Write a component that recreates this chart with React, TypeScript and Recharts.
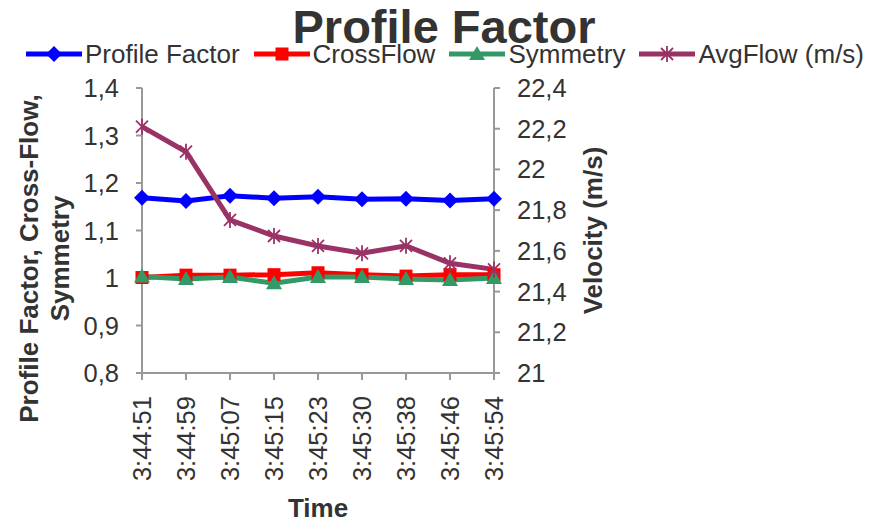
import { Legend, Line, LineChart, XAxis, YAxis } from "recharts";

const times = ["3:44:51", "3:44:59", "3:45:07", "3:45:15", "3:45:23", "3:45:30", "3:45:38", "3:45:46", "3:45:54"];
const profileFactor = [1.169, 1.162, 1.173, 1.168, 1.171, 1.166, 1.167, 1.163, 1.167];
const crossFlow = [1.001, 1.006, 1.006, 1.007, 1.011, 1.007, 1.004, 1.007, 1.007];
const symmetry = [1.003, 0.998, 1.002, 0.989, 1.002, 1.002, 0.998, 0.996, 1.0];
const avgFlow = [22.21, 22.087, 21.752, 21.673, 21.624, 21.588, 21.625, 21.539, 21.509];

const leftTicks = [0.8, 0.9, 1.0, 1.1, 1.2, 1.3, 1.4];
const rightTicks = [21, 21.2, 21.4, 21.6, 21.8, 22, 22.2, 22.4];

const data = times.map((time, i) => ({
  time,
  profileFactor: profileFactor[i],
  crossFlow: crossFlow[i],
  symmetry: symmetry[i],
  avgFlow: avgFlow[i],
}));

const FONT = "'Liberation Sans', Arial, sans-serif";
const TEXT = "#333333";
const AXIS = "#999999";
const TICK_SIZE = 25.5;
const LABEL_SIZE = 26;

const BLUE = "#0000FF";
const RED = "#FF0000";
const GREEN = "#339966";
const PURPLE = "#993366";

const commaFmt = (v: number) => String(Math.round(v * 10) / 10).replace(".", ",");

type Marker = "diamond" | "square" | "triangle" | "star";

function markerShape(kind: Marker, cx: number, cy: number, color: string, key?: string | number) {
  if (kind === "diamond") {
    return <polygon key={key} points={`${cx},${cy - 8} ${cx + 8},${cy} ${cx},${cy + 8} ${cx - 8},${cy}`} fill={color} />;
  }
  if (kind === "square") {
    return <rect key={key} x={cx - 6.5} y={cy - 6.5} width={13} height={13} fill={color} />;
  }
  if (kind === "triangle") {
    return <polygon key={key} points={`${cx},${cy - 8} ${cx + 8},${cy + 6} ${cx - 8},${cy + 6}`} fill={color} />;
  }
  return (
    <g key={key} stroke={color} strokeWidth={1.8}>
      <line x1={cx - 6} y1={cy - 6} x2={cx + 6} y2={cy + 6} />
      <line x1={cx - 6} y1={cy + 6} x2={cx + 6} y2={cy - 6} />
      <line x1={cx} y1={cy - 8} x2={cx} y2={cy + 8} />
    </g>
  );
}

const dotFor = (kind: Marker, color: string) => (props: any) => {
  const { cx, cy, index } = props;
  if (cx == null || cy == null) return <g key={index} />;
  return markerShape(kind, cx, cy, color, index);
};

const legendItems: { name: string; color: string; marker: Marker }[] = [
  { name: "Profile Factor", color: BLUE, marker: "diamond" },
  { name: "CrossFlow", color: RED, marker: "square" },
  { name: "Symmetry", color: GREEN, marker: "triangle" },
  { name: "AvgFlow (m/s)", color: PURPLE, marker: "star" },
];

function renderLegend() {
  return (
    <div style={{ display: "flex", justifyContent: "center", alignItems: "center", height: 28, gap: 14, fontFamily: FONT, fontSize: LABEL_SIZE, color: TEXT }}>
      {legendItems.map((it) => (
        <div key={it.name} style={{ display: "flex", alignItems: "center" }}>
          <svg width={56} height={20} style={{ marginRight: 3 }}>
            <line x1={0} y1={10} x2={56} y2={10} stroke={it.color} strokeWidth={5} />
            {markerShape(it.marker, 28, 10, it.color)}
          </svg>
          <span style={{ lineHeight: "28px" }}>{it.name}</span>
        </div>
      ))}
    </div>
  );
}

function XTick(props: any) {
  const { x, y, payload } = props;
  return (
    <g transform={`translate(${x},${y})`}>
      <text transform="rotate(-90)" textAnchor="end" dy="0.35em" fill={TEXT} fontSize={TICK_SIZE} fontFamily={FONT}>
        {payload.value}
      </text>
    </g>
  );
}

const leftTitle = (props: any) => {
  const vb = props.viewBox;
  const cy = vb.y + vb.height / 2 + 28;
  return (
    <g>
      <text transform={`translate(${vb.x + 29},${cy}) rotate(-90)`} textAnchor="middle" dy="0.35em" fontWeight="bold" fontSize={LABEL_SIZE} fill={TEXT} fontFamily={FONT}>
        Profile Factor, Cross-Flow,
      </text>
      <text transform={`translate(${vb.x + 60},${cy}) rotate(-90)`} textAnchor="middle" dy="0.35em" fontWeight="bold" fontSize={LABEL_SIZE} fill={TEXT} fontFamily={FONT}>
        Symmetry
      </text>
    </g>
  );
};

const rightTitle = (props: any) => {
  const vb = props.viewBox;
  return (
    <text transform={`translate(${vb.x + 99},${vb.y + vb.height / 2}) rotate(-90)`} textAnchor="middle" dy="0.35em" fontWeight="bold" fontSize={LABEL_SIZE} fill={TEXT} fontFamily={FONT}>
      Velocity (m/s)
    </text>
  );
};

const bottomTitle = (props: any) => {
  const vb = props.viewBox;
  return (
    <text x={vb.x + vb.width / 2} y={vb.y + vb.height - 5} textAnchor="middle" fontWeight="bold" fontSize={LABEL_SIZE} fill={TEXT} fontFamily={FONT}>
      Time
    </text>
  );
};

export default function App() {
  return (
    <div style={{ position: "absolute", left: 0, top: 0, width: 882, height: 522, background: "#fff" }}>
      <div
        style={{
          position: "absolute",
          left: 0,
          top: 3,
          width: 888,
          textAlign: "center",
          fontFamily: FONT,
          fontWeight: "bold",
          fontSize: 47,
          lineHeight: "47px",
          color: TEXT,
        }}
      >
        Profile Factor
      </div>
      <LineChart width={882} height={522} data={data} margin={{ top: 60, right: 278, bottom: 0, left: 0 }}>
        <Legend verticalAlign="top" content={renderLegend} wrapperStyle={{ top: 40, left: 0, width: 890 }} />
        <XAxis
          dataKey="time"
          interval={0}
          height={149}
          tick={<XTick />}
          tickSize={7}
          tickMargin={16}
          axisLine={{ stroke: AXIS, strokeWidth: 2 }}
          tickLine={{ stroke: AXIS, strokeWidth: 2 }}
          label={{ content: bottomTitle }}
        />
        <YAxis
          yAxisId="left"
          width={142}
          domain={[0.8, 1.4]}
          ticks={leftTicks}
          tickFormatter={commaFmt}
          tickSize={6}
          tickMargin={17}
          tick={{ fill: TEXT, fontSize: TICK_SIZE, fontFamily: FONT }}
          axisLine={{ stroke: AXIS, strokeWidth: 2 }}
          tickLine={{ stroke: AXIS, strokeWidth: 2 }}
          label={{ content: leftTitle }}
        />
        <YAxis
          yAxisId="right"
          orientation="right"
          width={110}
          domain={[21, 22.4]}
          ticks={rightTicks}
          tickFormatter={commaFmt}
          tickSize={6}
          tickMargin={17}
          tick={{ fill: TEXT, fontSize: TICK_SIZE, fontFamily: FONT }}
          axisLine={{ stroke: AXIS, strokeWidth: 2 }}
          tickLine={{ stroke: AXIS, strokeWidth: 2 }}
          label={{ content: rightTitle }}
        />
        <Line yAxisId="left" dataKey="profileFactor" stroke={BLUE} strokeWidth={5} dot={dotFor("diamond", BLUE)} isAnimationActive={false} />
        <Line yAxisId="left" dataKey="crossFlow" stroke={RED} strokeWidth={5} dot={dotFor("square", RED)} isAnimationActive={false} />
        <Line yAxisId="left" dataKey="symmetry" stroke={GREEN} strokeWidth={5} dot={dotFor("triangle", GREEN)} isAnimationActive={false} />
        <Line yAxisId="right" dataKey="avgFlow" stroke={PURPLE} strokeWidth={5} dot={dotFor("star", PURPLE)} isAnimationActive={false} />
      </LineChart>
    </div>
  );
}
